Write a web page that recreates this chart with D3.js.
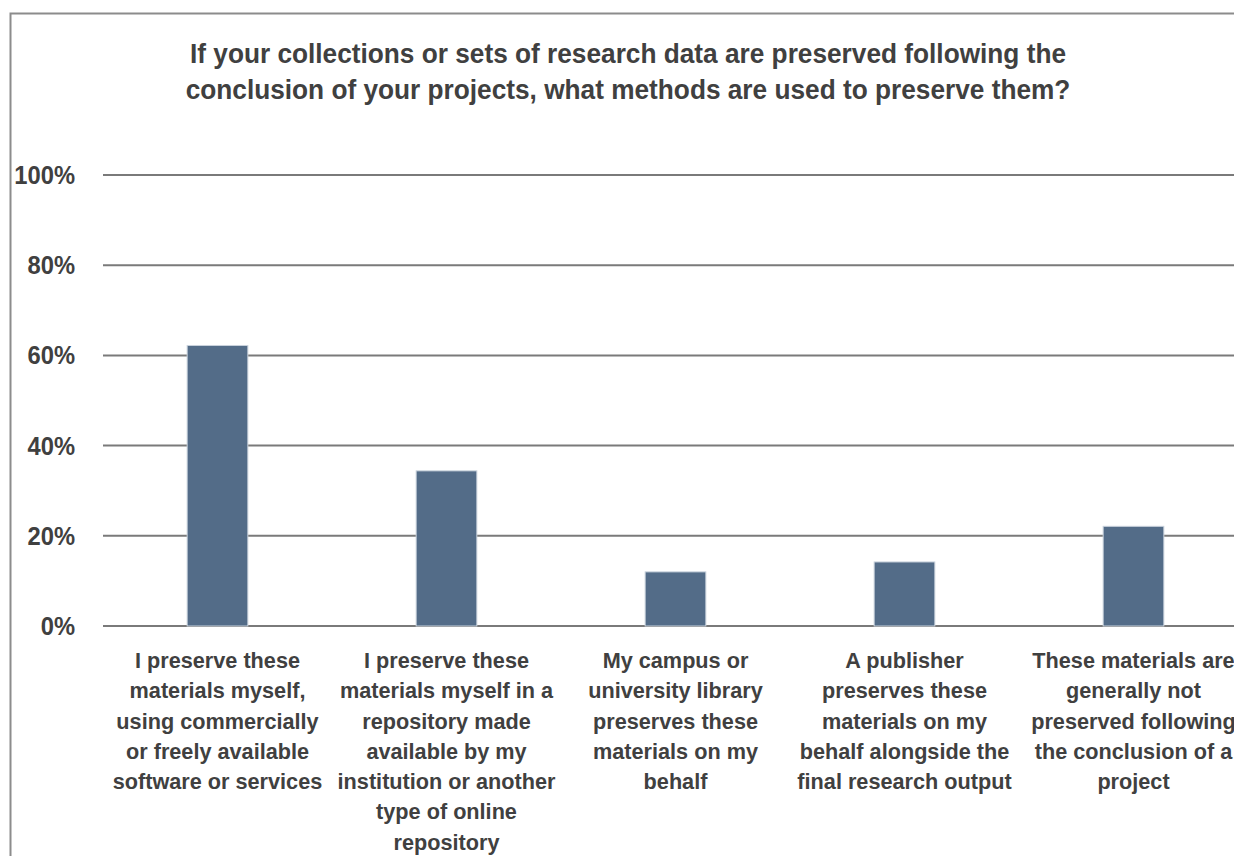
<!DOCTYPE html>
<html><head><meta charset="utf-8">
<script src="https://cdn.jsdelivr.net/npm/d3@7"></script>
<style>
html,body{margin:0;padding:0;background:#fff;}
text{font-family:"Liberation Sans Narrow","Arial Narrow","Liberation Sans",Arial,sans-serif;font-weight:bold;fill:#404040;}
</style></head>
<body>
<svg id="chart" width="1234" height="856"></svg>
<script>
const titleLines = [
  "If your collections or sets of research data are preserved following the",
  "conclusion of your projects, what methods are used to preserve them?"
];
const categories = [
  "I preserve these\nmaterials myself,\nusing commercially\nor freely available\nsoftware or services",
  "I preserve these\nmaterials myself in a\nrepository made\navailable by my\ninstitution or another\ntype of online\nrepository",
  "My campus or\nuniversity library\npreserves these\nmaterials on my\nbehalf",
  "A publisher\npreserves these\nmaterials on my\nbehalf alongside the\nfinal research output",
  "These materials are\ngenerally not\npreserved following\nthe conclusion of a\nproject"
];
const values = [62.2, 34.4, 12.0, 14.2, 22.1];
const yTicks = [0, 20, 40, 60, 80, 100];
const yTickLabels = ["0%", "20%", "40%", "60%", "80%", "100%"];

const svg = d3.select("#chart");
const W = 1234, H = 856;
svg.append("rect").attr("width", W).attr("height", H).attr("fill", "#fff");
// outer border
svg.append("rect").attr("x", 10.5).attr("y", 13.5).attr("width", 1300).attr("height", 1000)
  .attr("fill", "none").attr("stroke", "#8c8c8c").attr("stroke-width", 2);

const plotLeft = 103, step = 229;
const x = d3.scaleBand().domain(d3.range(categories.length)).range([plotLeft, plotLeft + step * categories.length]).padding(0);
const y = d3.scaleLinear().domain([0, 100]).range([626, 175]);
const barW = x.bandwidth() * 0.265;

// gridlines
svg.append("g").selectAll("line").data(yTicks).join("line")
  .attr("x1", plotLeft).attr("x2", W)
  .attr("y1", d => y(d)).attr("y2", d => y(d))
  .attr("stroke", "#7a7a7a").attr("stroke-width", 2);

// y labels
svg.append("g").selectAll("text").data(yTicks).join("text")
  .attr("transform", d => `translate(75,${y(d)}) scale(0.95,1)`)
  .attr("dy", "0.36em")
  .attr("text-anchor", "end").style("font-size", "25px")
  .text((d, i) => yTickLabels[i]);

// bars
svg.append("g").selectAll("rect").data(values).join("rect")
  .attr("x", (d, i) => x(i) + x.bandwidth() / 2 - barW / 2)
  .attr("width", barW)
  .attr("y", d => y(d)).attr("height", d => y(0) - y(d))
  .attr("fill", "#536c88").attr("stroke", "#c9d2dc").attr("stroke-width", 1);

// category labels
const cat = svg.append("g").selectAll("text").data(categories).join("text")
  .attr("text-anchor", "middle").style("font-size", "22px")
  .attr("transform", (d, i) => `translate(${x(i) + x.bandwidth() / 2},0) scale(0.985,1)`);
cat.selectAll("tspan").data(d => d.split("\n")).join("tspan")
  .attr("x", 0).attr("y", (d, j) => 668 + j * 30.3).text(d => d);

// title
svg.append("g").selectAll("text").data(titleLines).join("text")
  .attr("transform", (d, i) => `translate(628,${63 + i * 36}) scale(0.937,1)`)
  .attr("text-anchor", "middle").style("font-size", "28px")
  .text(d => d);
</script>
</body></html>
